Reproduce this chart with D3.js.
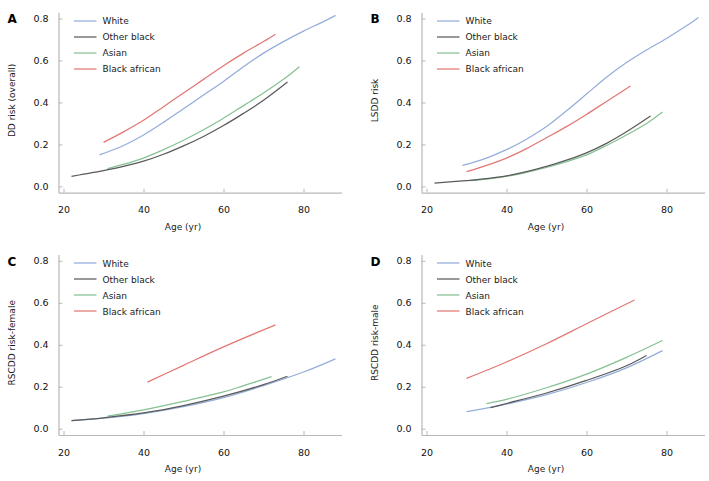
<!DOCTYPE html>
<html><head><meta charset="utf-8">
<script src="https://cdn.jsdelivr.net/npm/d3@7"></script>
<style>
html,body{margin:0;padding:0;background:#fff;}
svg{display:block;font-family:"DejaVu Sans",Verdana,sans-serif;}
</style></head>
<body><svg id="chart" width="709" height="481"></svg>
<script>
// ---- data (age in years, risk) ----
const seriesNames = ["White", "Other black", "Asian", "Black african"];
const seriesColors = ["#94addb", "#5a5a5a", "#86c194", "#e27874"];
const panelLetters = ["A", "B", "C", "D"];
const yLabels = ["DD risk (overall)", "LSDD risk", "RSCDD risk-female", "RSCDD risk-male"];
const xTicks = [20, 40, 60, 80];
const yTicks = [0.0, 0.2, 0.4, 0.6, 0.8];

const A_white = [[29,0.15],[35,0.195],[40,0.245],[45,0.305],[50,0.37],[55,0.435],[60,0.5],[65,0.57],[70,0.635],[75,0.69],[80,0.74],[85,0.785],[88,0.815]];
const A_otherBlack = [[22,0.048],[25,0.058],[30,0.075],[35,0.095],[40,0.12],[45,0.153],[50,0.193],[55,0.238],[60,0.29],[65,0.348],[70,0.41],[76,0.497]];
const A_asian = [[31,0.085],[35,0.105],[40,0.135],[45,0.175],[50,0.22],[55,0.27],[60,0.325],[65,0.385],[70,0.445],[75,0.51],[79,0.57]];
const A_blackAfrican = [[30,0.21],[35,0.26],[40,0.315],[45,0.38],[50,0.445],[55,0.51],[60,0.575],[65,0.635],[70,0.69],[73,0.725]];

const B_white = [[29,0.10],[35,0.135],[40,0.175],[45,0.225],[50,0.285],[55,0.36],[60,0.44],[65,0.52],[70,0.59],[75,0.65],[80,0.705],[85,0.765],[88,0.805]];
const B_otherBlack = [[22,0.016],[30,0.028],[35,0.037],[40,0.05],[45,0.07],[50,0.095],[55,0.125],[60,0.16],[65,0.205],[70,0.26],[76,0.335]];
const B_asian = [[31,0.027],[35,0.035],[40,0.048],[45,0.067],[50,0.09],[55,0.118],[60,0.15],[65,0.195],[70,0.245],[75,0.30],[79,0.355]];
const B_blackAfrican = [[30,0.07],[35,0.10],[40,0.135],[45,0.18],[50,0.232],[55,0.285],[60,0.343],[65,0.405],[71,0.478]];

const C_white = [[22,0.038],[30,0.05],[40,0.072],[50,0.105],[60,0.148],[70,0.205],[80,0.27],[88,0.333]];
const C_otherBlack = [[22,0.038],[30,0.052],[40,0.075],[50,0.11],[60,0.155],[70,0.21],[76,0.25]];
const C_asian = [[31,0.06],[40,0.09],[50,0.13],[60,0.175],[65,0.205],[72,0.248]];
const C_blackAfrican = [[41,0.222],[50,0.302],[60,0.39],[73,0.495]];

const D_white = [[30,0.081],[35,0.098],[40,0.117],[50,0.162],[60,0.22],[70,0.29],[79,0.372]];
const D_otherBlack = [[36,0.10],[40,0.12],[50,0.17],[60,0.23],[70,0.30],[75,0.349]];
const D_asian = [[35,0.12],[40,0.14],[50,0.195],[60,0.26],[70,0.34],[79,0.42]];
const D_blackAfrican = [[30,0.24],[40,0.318],[50,0.405],[60,0.50],[72,0.613]];

const panelData = [
  [A_white, A_otherBlack, A_asian, A_blackAfrican],
  [B_white, B_otherBlack, B_asian, B_blackAfrican],
  [C_white, C_otherBlack, C_asian, C_blackAfrican],
  [D_white, D_otherBlack, D_asian, D_blackAfrican]
];

// ---- layout ----
const panelPos = [
  {left: 58.5, bottom: 192.7, legendY: 21},
  {left: 421.5, bottom: 192.7, legendY: 21},
  {left: 58.5, bottom: 435, legendY: 263},
  {left: 421.5, bottom: 435, legendY: 263}
];
const plotW = 283, plotH = 180.5;
const svg = d3.select("#chart");

panelPos.forEach((p, i) => {
  const top = p.bottom - plotH;
  const g = svg.append("g").attr("transform", `translate(${p.left},${top})`);
  const x = d3.scaleLinear().domain([18.75, 89.5]).range([0, plotW]);
  const y = d3.scaleLinear().domain([-0.03, 0.83]).range([plotH, 0]);

  const xa = g.append("g").attr("transform", `translate(0,${plotH})`)
    .call(d3.axisBottom(x).tickValues(xTicks).tickSize(-4).tickSizeOuter(0).tickPadding(14));
  const ya = g.append("g")
    .call(d3.axisLeft(y).tickValues(yTicks).tickFormat(d3.format(".1f")).tickSize(-4).tickSizeOuter(0).tickPadding(10));
  [xa, ya].forEach(a => {
    a.select(".domain").attr("stroke", "#b8b8b8").attr("stroke-width", 1.2);
    a.selectAll(".tick line").attr("stroke", "#b8b8b8");
    a.selectAll(".tick text").attr("fill", "#111").attr("font-size", 9.5)
      .attr("font-family", "DejaVu Sans, Verdana, sans-serif");
  });

  const line = d3.line().x(d => x(d[0])).y(d => y(d[1])).curve(d3.curveCatmullRom.alpha(0.5));
  const order = [0, 2, 1, 3];
  order.forEach(k => {
    g.append("path").datum(panelData[i][k])
      .attr("d", line).attr("fill", "none")
      .attr("stroke", seriesColors[k]).attr("stroke-width", 1.25);
  });

  // legend
  seriesNames.forEach((nm, k) => {
    const yy = p.legendY - top + k * 16;
    g.append("line").attr("x1", 15.5).attr("x2", 38).attr("y1", yy).attr("y2", yy)
      .attr("stroke", seriesColors[k]).attr("stroke-width", 1.25);
    g.append("text").attr("x", 44).attr("y", yy + 3.5).text(nm)
      .attr("font-size", 9).attr("fill", "#1a1a1a");
  });

  // panel letter
  svg.append("text").attr("x", p.left - 51).attr("y", top + 11)
    .text(panelLetters[i]).attr("font-weight", "bold").attr("font-size", 12)
    .attr("fill", "#000");

  // axis titles
  svg.append("text").attr("x", p.left + plotW / 2 - 17).attr("y", p.bottom + 37)
    .attr("text-anchor", "middle").attr("font-size", 9).attr("fill", "#1a1a1a").text("Age (yr)");
  svg.append("text").attr("transform", `translate(${p.left - 43.5},${top + plotH / 2 - 2}) rotate(-90)`)
    .attr("text-anchor", "middle").attr("font-size", 9).attr("fill", "#1a1a1a").text(yLabels[i]);
});
</script></body></html>
